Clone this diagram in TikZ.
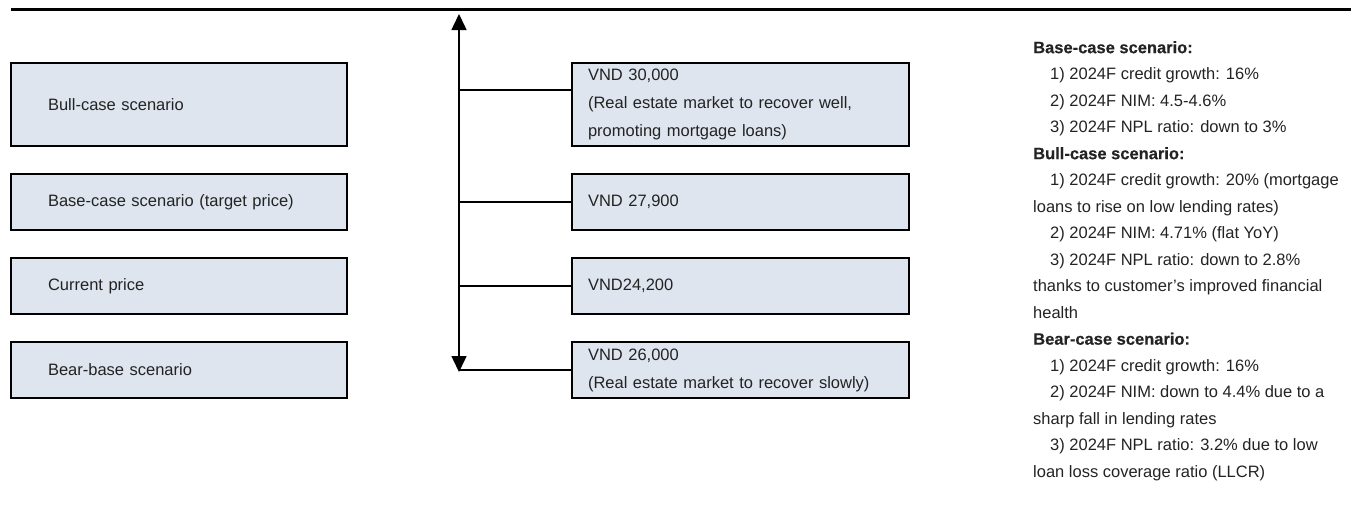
\documentclass[tikz,border=0pt]{standalone}
\usepackage{fontspec}
\setmainfont{Liberation Sans}
\newfontfamily\headfont[FakeBold=0.4]{Liberation Sans}
\usepackage{xcolor}
\usetikzlibrary{arrows.meta, positioning}
\definecolor{cBox}{RGB}{222,229,239}
\definecolor{cText}{RGB}{35,35,35}
\tikzset{
    scenbox/.style ={rectangle, draw=black, line width=2pt, fill=cBox, text=cText, align=left, inner xsep=37pt, text width=262pt, minimum width=336pt, font=\fontsize{16.5}{28}\selectfont},
    pricebox/.style={rectangle, draw=black, line width=2pt, fill=cBox, text=cText, align=left, inner xsep=16pt, text width=305pt, minimum width=337pt, font=\fontsize{16.5}{28}\selectfont},
    link/.style    ={line width=2pt},
    axis/.style    ={{Triangle[width=15pt,length=16pt]}-{Triangle[width=15pt,length=16pt]}, line width=1.5pt},
}
\newcommand{\ind}{\hspace*{17pt}}

\begin{document}
\begin{tikzpicture}[x=1pt, y=-1pt]
        \useasboundingbox (0,0) rectangle (1351,507);
        % top rule
        \coordinate (rl) at (11,9);
        \coordinate (rr) at (1351,9);
        \draw[line width=3pt] (rl) -- (rr);
        % scenarios
        \node[scenbox, minimum height=83pt] (s1) at (179,104.5) {Bull-case scenario};
        \node[scenbox, minimum height=56pt] (s2) at (179,202) {Base-case scenario (target price)};
        \node[scenbox, minimum height=56pt] (s3) at (179,286) {Current price};
        \node[scenbox, minimum height=56pt] (s4) at (179,370) {Bear-base scenario};
        % prices
        \node[pricebox, minimum height=83pt, right=223pt of s1] (p1) {VND 30,000\\(Real estate market to recover well,\\promoting mortgage loans)};
        \node[pricebox, minimum height=56pt, right=223pt of s2] (p2) {VND 27,900};
        \node[pricebox, minimum height=56pt, right=223pt of s3] (p3) {VND24,200};
        \node[pricebox, minimum height=56pt, right=223pt of s4] (p4) {VND 26,000\\(Real estate market to recover slowly)};
        % price axis
        \coordinate (axtop) at (459,14);
        \coordinate (axbot) at (459,372);
        \draw[axis] (axbot) -- (axtop);
        \coordinate (t1) at (459,90);
        \coordinate (t2) at (459,202);
        \coordinate (t3) at (459,286);
        \coordinate (t4) at (459,370);
        \draw[link] (t1) -- (t1 -| p1.west);
        \draw[link] (t2) -- (p2.west);
        \draw[link] (t3) -- (p3.west);
        \draw[link] (t4) -- (p4.west);
        % assumptions
        \node[anchor=north west, inner sep=0pt, align=left, text=cText, font=\fontsize{16.5}{26.5}\selectfont] (notes) at (1033,41) {%
            {\headfont\bfseries Base-case scenario:}\\
            \ind 1) 2024F credit growth: 16\%\\
            \ind 2) 2024F NIM: 4.5-4.6\%\\
            \ind 3) 2024F NPL ratio: down to 3\%\\
            {\headfont\bfseries Bull-case scenario:}\\
            \ind 1) 2024F credit growth: 20\% (mortgage\\
            loans to rise on low lending rates)\\
            \ind 2) 2024F NIM: 4.71\% (flat YoY)\\
            \ind 3) 2024F NPL ratio: down to 2.8\%\\
            thanks to customer’s improved financial\\
            health\\
            {\headfont\bfseries Bear-case scenario:}\\
            \ind 1) 2024F credit growth: 16\%\\
            \ind 2) 2024F NIM: down to 4.4\% due to a\\
            sharp fall in lending rates\\
            \ind 3) 2024F NPL ratio: 3.2\% due to low\\
            loan loss coverage ratio (LLCR)};
    \end{tikzpicture}
\end{document}
